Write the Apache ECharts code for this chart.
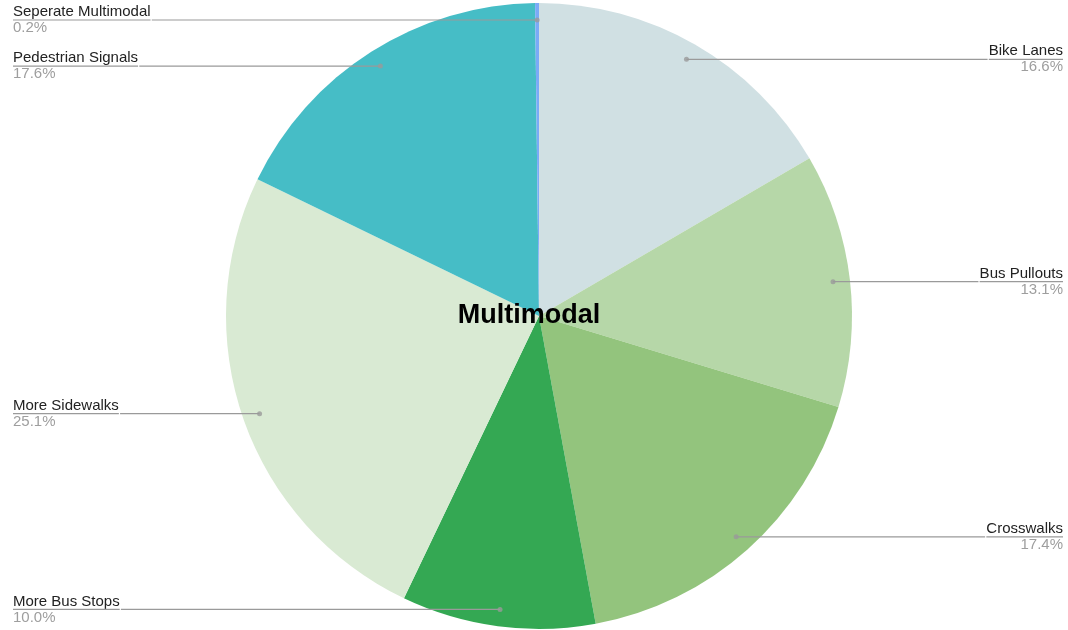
<!DOCTYPE html>
<html>
<head>
<meta charset="utf-8">
<script src="https://cdn.jsdelivr.net/npm/echarts@6/dist/echarts.min.js"></script>
<style>
html,body{margin:0;padding:0;background:#fff;}
#chart{width:1068px;height:630px;}
</style>
</head>
<body>
<div id="chart"></div>
<script>
var categories = ['Bike Lanes', 'Bus Pullouts', 'Crosswalks', 'More Bus Stops', 'More Sidewalks', 'Pedestrian Signals', 'Seperate Multimodal'];
var values = [16.6, 13.1, 17.4, 10.0, 25.1, 17.6, 0.2];
var colors = ['#d0e0e3', '#b6d7a8', '#93c47d', '#34a853', '#d9ead3', '#46bdc6', '#7baaf7'];
var chartTitle = 'Multimodal';

var FONT = '"Liberation Sans", Arial, sans-serif';
var CX = 539, CY = 316, R = 313, RL = 296;

var total = values.reduce(function (a, b) { return a + b; }, 0);
var pieData = categories.map(function (c, i) {
  return { name: c, value: values[i], itemStyle: { color: colors[i] } };
});
var labelData = categories.map(function (c, i) {
  return { name: c, value: values[i] };
});
// anchor dots: cumulative mid-angles in percent units
var cum = 0;
var dotData = values.map(function (v) {
  var mid = (cum + v / 2) / total * 100;
  cum += v;
  return [RL, mid];
});

var chart = echarts.init(document.getElementById('chart'), null, { renderer: 'canvas' });
chart.setOption({
  animation: false,
  backgroundColor: '#fff',
  textStyle: { fontFamily: FONT },
  polar: { center: [CX, CY], radius: R },
  angleAxis: { type: 'value', min: 0, max: 100, startAngle: 90, clockwise: true, show: false },
  radiusAxis: { type: 'value', min: 0, max: R, show: false },
  graphic: [{
    type: 'text',
    style: { text: chartTitle, x: 529, y: 316, align: 'center', verticalAlign: 'middle',
      font: 'bold 27px ' + FONT, fill: '#000' },
    z: 100
  }],
  series: [
    {
      type: 'pie',
      z: 1,
      left: 0, top: 0, width: 1076, height: 630,
      center: [CX, CY],
      radius: [0, R],
      startAngle: 90,
      clockwise: true,
      label: { show: false },
      labelLine: { show: false },
      itemStyle: { borderWidth: 0 },
      silent: true,
      data: pieData
    },
    {
      type: 'pie',
      z: 3,
      left: 0, top: 0, width: 1076, height: 630,
      center: [CX, CY],
      radius: [0, RL],
      startAngle: 90,
      clockwise: true,
      silent: true,
      itemStyle: { color: 'rgba(0,0,0,0)', borderWidth: 0 },
      label: {
        show: true,
        position: 'outer',
        alignTo: 'edge',
        edgeDistance: 13,
        distanceToLabelLine: 0,
        formatter: function (p) {
          return '{n|' + p.name + '}\n{hr|}\n{p|' + p.value.toFixed(1) + '%}';
        },
        rich: {
          n: { fontSize: 15, color: '#222', lineHeight: 16, fontFamily: FONT },
          hr: { width: '100%', height: 0, borderWidth: 1.2, borderColor: '#9a9a9a' },
          p: { fontSize: 15, color: '#9e9e9e', lineHeight: 16, fontFamily: FONT }
        }
      },
      labelLine: { show: true, length: 0, length2: 0, smooth: false, lineStyle: { color: '#9a9a9a', width: 1.2 } },
      data: labelData
    },
    {
      type: 'scatter',
      coordinateSystem: 'polar',
      z: 5,
      symbolSize: 5,
      itemStyle: { color: '#9a9a9a' },
      silent: true,
      data: dotData
    }
  ]
});
</script>
</body>
</html>
